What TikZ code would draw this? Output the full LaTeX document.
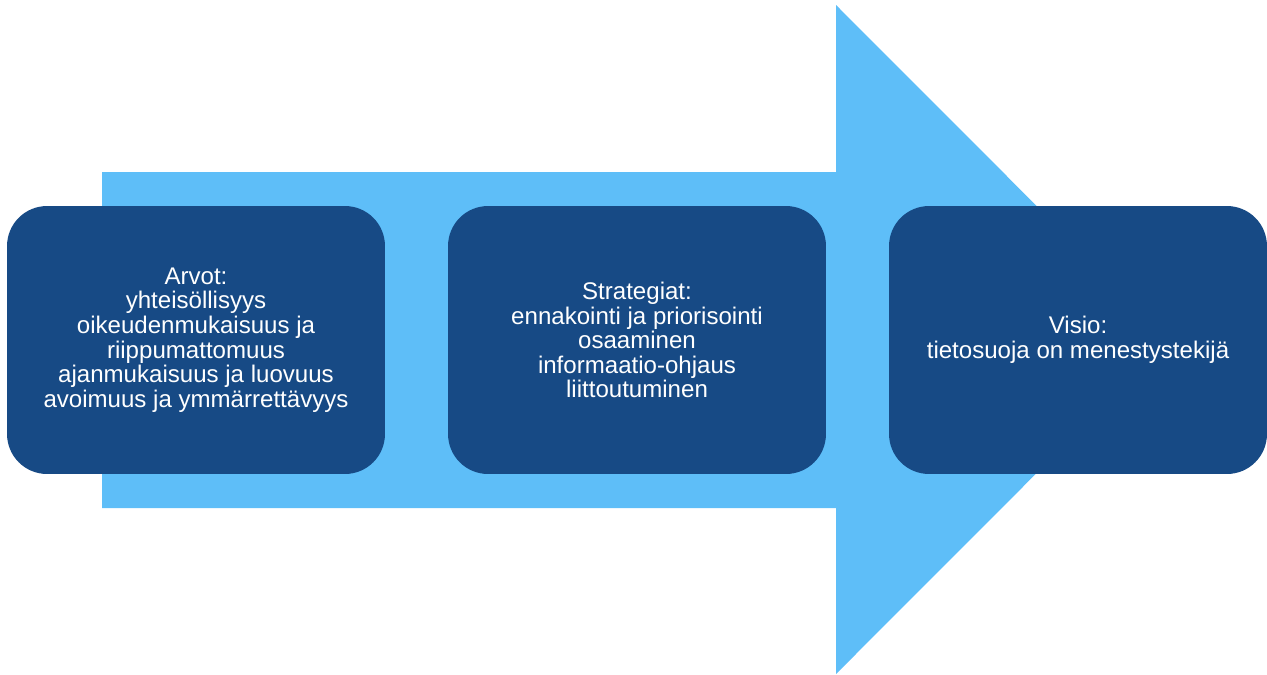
\documentclass[tikz,border=0pt]{standalone}
\usepackage{fontspec}
\setmainfont{Liberation Sans}
\usepackage{tikz}
\usetikzlibrary{positioning}
\definecolor{arrowblue}{HTML}{5EBEF8}
\definecolor{boxblue}{HTML}{174A85}
\tikzset{stage/.style = {shape=rectangle, rounded corners=0.8cm, fill=boxblue, text=white,
    minimum width=7.56cm, minimum height=5.36cm, align=center,
    font=\fontsize{13.7pt}{14pt}\selectfont}}

\begin{document}
\begin{tikzpicture}[x=0.02cm,y=-0.02cm]
                \useasboundingbox (0,0) rectangle (1267,674);

                \fill[arrowblue] (102,172) -- (836,172) -- (836,5) -- (1170,339.5)
                    -- (836,674) -- (836,508) -- (102,508) -- cycle;

                \node[stage] (arvot) at (196,340) {Arvot:\\yhteisöllisyys\\oikeudenmukaisuus ja\\riippumattomuus\\ajanmukaisuus ja luovuus\\avoimuus ja ymmärrettävyys};
                \node[stage] (strategiat) at (637,340) {Strategiat:\\ennakointi ja priorisointi\\osaaminen\\informaatio-ohjaus\\liittoutuminen};
                \node[stage] (visio) at (1078,340) {Visio:\\tietosuoja on menestystekijä};
            \end{tikzpicture}
\end{document}
